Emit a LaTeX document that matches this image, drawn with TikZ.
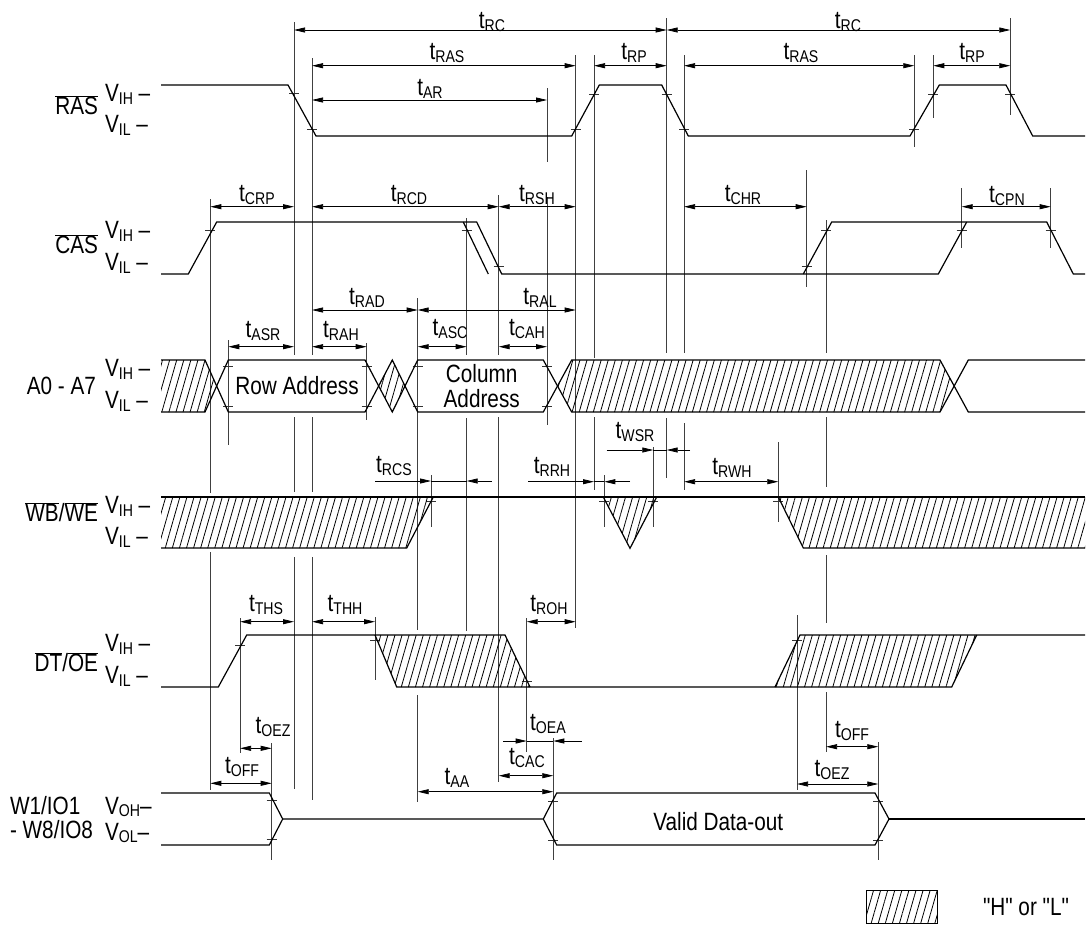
\documentclass[tikz,border=0pt]{standalone}
\usepackage{fontspec}
\setmainfont{Liberation Sans}[FakeStretch=0.83]
\newfontfamily\qfont{Liberation Sans}[FakeStretch=0.83]
\usetikzlibrary{arrows.meta,patterns.meta}
\newcommand\tsb[1]{t\raisebox{-2.5pt}{\fontsize{17}{17}\selectfont #1}}
\newcommand\vsb[1]{V\raisebox{-2.5pt}{\fontsize{17}{17}\selectfont #1}}
\newcommand\ovl[1]{$\overline{\mbox{#1}}$}
\begin{document}
\begin{tikzpicture}[x=1pt,y=-1pt,
  every node/.style={font=\fontsize{25}{26}\selectfont, inner sep=0pt, outer sep=0pt},
  sig/.style={line width=1.2pt, line join=miter},
  vl/.style={line width=0.75pt, black!75},
  tk/.style={line width=0.75pt, black!80},
  dim/.style={line width=0.75pt, >={Triangle[length=11pt,width=5pt]}},
  hatch/.style={pattern={Lines[angle=74,distance=6.8pt,line width=0.8pt]}},
]
\useasboundingbox (0,0) rectangle (1087,927);

% ---------- vertical reference lines ----------
\foreach \x/\a/\b in {
  210.3/199/493, 210.3/552/790,
  228.3/340/445,
  240/618/753,
  271.7/743/860,
  294/22/355, 294/417/492, 294/557/789,
  312/58/355, 312/417/492, 312/557/800,
  366.7/343/420,
  375/617/680,
  417.7/298/630, 417.7/695/802,
  431/475/527,
  466.7/218/355, 466.7/418/631,
  498.7/195/355, 498.7/417/782,
  526.7/618/752,
  547/88/162, 547/197/425,
  553.3/738/860,
  575.7/55/628,
  594/55/358, 594/417/490,
  604.3/475/527,
  653.3/447/527,
  666.7/18/353, 666.7/418/478,
  684/55/353, 684/423/490,
  778.3/442/522,
  797/615/790,
  806.7/170/287,
  826/220/353, 826/417/487, 826/555/623, 826/692/752,
  878.3/742/860,
  914.3/55/147,
  933.3/55/118,
  961.7/188/248,
  1010.3/18/115,
  1050.7/188/248}
  \draw[vl] (\x,\a)--(\x,\b);

% ---------- ticks ----------
\foreach \x/\y in {
  294/93, 312/129, 575.7/129, 594/94, 666.7/94, 684/129, 914.3/129, 933.3/94, 1010.3/94,
  210.3/230, 466.7/230, 498.7/266, 806.7/266.7, 826/230, 961.7/230, 1050.7/230,
  228.3/366.7, 228.3/406, 366.7/366.7, 366.7/406, 417.7/366.7, 417.7/406, 547/366.7, 547/406,
  431/501.7, 604.3/501.7, 653.3/501.7, 778.3/501.7,
  240/645, 375/640, 526.7/681.7, 797/640.7,
  271.7/800, 271.7/839.3, 553.3/801.7, 553.3/840, 878.3/801.7, 878.3/840}
  \draw[tk] (\x-5,\y)--(\x+5,\y);

% ---------- RAS ----------
\draw[sig] (161,85)--(288,85)--(316,136)--(571.7,136)--(599.3,85)--(661.7,85)--(688.3,136)
  --(910,136)--(939.3,85)--(1006,85)--(1032.7,136)--(1085,136);

% ---------- CAS ----------
\draw[sig] (161,274)--(188.3,274)--(216.7,222)--(476.7,222)--(501.7,274)--(938.3,274)--(966.7,222);
\draw[sig] (463.3,222)--(488.3,274);
\draw[sig] (803.3,274)--(831.7,222)--(1046.7,222)--(1073.3,274)--(1085,274);

% ---------- A0 - A7 ----------
\path[hatch] (161,360)--(205,360)--(216.6,386)--(205,412)--(161,412)--cycle;
\path[hatch] (378.7,386)--(392.3,360)--(405,386)--(392.3,412)--cycle;
\path[hatch] (557.5,386)--(571.7,360)--(940,360)--(954.1,386)--(940,412)--(571.7,412)--cycle;
\draw[sig] (161,360)--(205,360)--(228.3,412)--(365,412)--(392.3,360)--(417.7,412)--(543.3,412)--(571.7,360)--(940,360)--(968.3,412)--(1085,412);
\draw[sig] (161,412)--(205,412)--(228.3,360)--(365,360)--(392.3,412)--(417.7,360)--(543.3,360)--(571.7,412)--(940,412)--(968.3,360)--(1085,360);
\node at (297,386) {Row Address};
\node[align=center, font=\fontsize{25}{25}\selectfont] at (481.7,386) {Column\\Address};

% ---------- WB/WE ----------
\path[hatch] (161,497)--(433.3,497)--(406.7,548)--(161,548)--cycle;
\path[hatch] (603.3,497)--(630,548.3)--(656.7,497)--cycle;
\path[hatch] (778.3,497)--(1085,497)--(1085,548)--(803.3,548)--cycle;
\draw[sig] (161,497)--(1085,497);
\draw[sig] (161,548)--(406.7,548)--(433.3,497);
\draw[sig] (603.3,497)--(630,548.3)--(656.7,497);
\draw[sig] (778.3,497)--(803.3,548)--(1085,548);

% ---------- DT/OE ----------
\path[hatch] (375,635)--(505,635)--(530,687)--(396.7,687)--cycle;
\path[hatch] (775,687)--(800,635)--(976.7,635)--(951.7,687)--cycle;
\draw[sig] (161,687)--(218.3,687)--(246.7,635)--(505,635)--(530,687);
\draw[sig] (375,635)--(396.7,687)--(951.7,687)--(976.7,635);
\draw[sig] (775,687)--(800,635)--(1085,635);

% ---------- W1/IO1 ----------
\draw[sig] (161,793)--(269.3,793)--(282.7,819)--(269.3,845)--(161,845);
\draw[sig] (282.7,819)--(543.3,819)--(556.7,793)--(875,793)--(889,819)--(875,845)--(556.7,845)--(543.3,819);
\draw[sig] (889,819)--(1085,819);
\node at (718.3,822) {Valid Data-out};

% ---------- left labels ----------
\node[anchor=east] at (98,105) {\ovl{RAS}};
\node[anchor=east] at (98,244) {\ovl{CAS}};
\node[anchor=east] at (96,386) {A0 - A7};
\node[anchor=east] at (98,512) {\ovl{WB}/\ovl{WE}};
\node[anchor=east] at (98,662) {\ovl{DT}/\ovl{OE}};
\node[anchor=base west] at (10,814) {W1/IO1};
\node[anchor=base west] at (10,838) {- W8/IO8};
\foreach \h/\l in {85/136, 222/274, 360/412, 497/548, 635/687}{
  \node[anchor=base west] at (105,\h+16.5) {\vsb{IH} –};
  \node[anchor=base west] at (105,\l-3.5) {\vsb{IL} –};
}
\node[anchor=base west] at (105,814) {\vsb{OH}–};
\node[anchor=base west] at (105,840) {\vsb{OL}–};

% ---------- dimension arrows ----------
\draw[dim,<->] (294,30)--(666.7,30);   \node at (492,22) {\tsb{RC}};
\draw[dim,<->] (666.7,30)--(1010.3,30); \node at (848,22) {\tsb{RC}};
\draw[dim,<->] (312,65.7)--(575.7,65.7); \node at (447,53) {\tsb{RAS}};
\draw[dim,<->] (594,65.7)--(666.7,65.7); \node at (634,53) {\tsb{RP}};
\draw[dim,<->] (684,65.7)--(914.3,65.7); \node at (801,53) {\tsb{RAS}};
\draw[dim,<->] (933.3,65.7)--(1010.3,65.7); \node at (972,53) {\tsb{RP}};
\draw[dim,<->] (312,100)--(547,100); \node at (430,89) {\tsb{AR}};

\draw[dim,<->] (210.3,206.7)--(294,206.7); \node at (257,195) {\tsb{CRP}};
\draw[dim,<->] (312,206.7)--(498.7,206.7); \node at (409,195) {\tsb{RCD}};
\draw[dim,<->] (498.7,206.7)--(575.7,206.7); \node at (537,195) {\tsb{RSH}};
\draw[dim,<->] (684,206.7)--(806.7,206.7); \node at (743,195) {\tsb{CHR}};
\draw[dim,<->] (961.7,206.7)--(1050.7,206.7); \node at (1007,196) {\tsb{CPN}};

\draw[dim,<->] (312,310)--(417.7,310); \node at (367,298) {\tsb{RAD}};
\draw[dim,<->] (417.7,310)--(575.7,310); \node at (540,298) {\tsb{RAL}};
\draw[dim,<->] (228.3,346.7)--(294,346.7); \node at (263,331) {\tsb{ASR}};
\draw[dim,<->] (312,346.7)--(366.7,346.7); \node at (341,331) {\tsb{RAH}};
\draw[dim,<->] (417.7,346.7)--(466.7,346.7); \node at (450,329) {\tsb{ASC}};
\draw[dim,<->] (498.7,346.7)--(547,346.7); \node at (527,329) {\tsb{CAH}};

% t_RCS
\draw[dim,->] (375,481)--(431,481);
\draw[dim] (431,481)--(466.7,481);
\draw[dim,->] (491.7,481)--(466.7,481);
\node at (394,466) {\tsb{RCS}};
% t_RRH
\draw[dim,->] (528,481.7)--(594,481.7);
\draw[dim] (594,481.7)--(604.3,481.7);
\draw[dim,->] (630,481.7)--(604.3,481.7);
\node at (552,467) {\tsb{RRH}};
% t_WSR
\draw[dim,->] (606.7,450)--(653.3,450);
\draw[dim] (653.3,450)--(666.7,450);
\draw[dim,->] (690,450)--(666.7,450);
\node at (635,432) {\tsb{WSR}};
% t_RWH
\draw[dim,<->] (684,481.7)--(778.3,481.7); \node at (732,468) {\tsb{RWH}};

\draw[dim,<->] (240,621.7)--(294,621.7); \node at (266,605) {\tsb{THS}};
\draw[dim,<->] (312,621.7)--(375,621.7); \node at (345,605) {\tsb{THH}};
\draw[dim,<->] (526.7,621.7)--(575.7,621.7); \node at (549,605) {\tsb{ROH}};

\draw[dim,<->] (240,748.3)--(271.7,748.3); \node at (273,727) {\tsb{OEZ}};
\draw[dim,<->] (210.3,783.3)--(271.7,783.3); \node at (242,767) {\tsb{OFF}};
\draw[dim,<->] (417.7,791.7)--(553.3,791.7); \node at (457,778) {\tsb{AA}};
\draw[dim,<->] (498.7,775.7)--(553.3,775.7); \node at (527,758) {\tsb{CAC}};
% t_OEA
\draw[dim,->] (503.3,741)--(526.7,741);
\draw[dim] (526.7,741)--(553.3,741);
\draw[dim,->] (581.7,741)--(553.3,741);
\node at (548,724) {\tsb{OEA}};

\draw[dim,<->] (826,746.7)--(878.3,746.7); \node at (852,731) {\tsb{OFF}};
\draw[dim,<->] (797,784)--(878.3,784); \node at (832,770) {\tsb{OEZ}};

% ---------- legend ----------
\path[hatch] (866.7,890.7) rectangle (937.7,923.3);
\draw[line width=0.9pt] (866.7,890.7) rectangle (937.7,923.3);
\node[font=\qfont\fontsize{25}{26}\selectfont] at (1026,907) {"H" or "L"};
\end{tikzpicture}
\end{document}
